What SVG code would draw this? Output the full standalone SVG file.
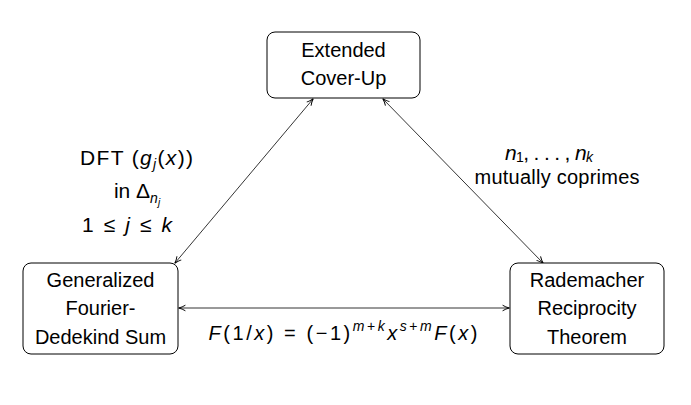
<svg xmlns="http://www.w3.org/2000/svg" width="691" height="405" viewBox="0 0 691 405">
<style>
.box{fill:#fff;stroke:#000;stroke-width:1}
.t{font-family:"Liberation Sans",Arial,sans-serif;font-size:20px;fill:#000;text-anchor:middle}
.m{font-size:21px}
.i{font-style:italic}
.s{font-size:14px}
.c{stroke:#000;stroke-width:0.8;fill:none;marker-start:url(#a);marker-end:url(#a)}
</style>
<defs>
<marker id="a" viewBox="0 0 10 10" refX="9" refY="5" markerWidth="8" markerHeight="8" markerUnits="userSpaceOnUse" orient="auto-start-reverse">
<path d="M1,1.5 Q5,4 9.5,5 Q5,6 1,8.5" fill="none" stroke="#000" stroke-width="1.2"/>
</marker>
</defs>
<rect width="691" height="405" fill="#fff"/>
<g id="connectors">
<line class="c" x1="175" y1="263" x2="313" y2="99"/>
<line class="c" x1="383" y1="99" x2="543" y2="263"/>
<line class="c" x1="179" y1="308" x2="509" y2="308"/>
</g>
<g id="extended">
<rect class="box" x="267" y="32" width="153" height="66" rx="8"/>
<text class="t" x="343.5" y="57">Extended</text>
<text class="t" x="343.5" y="85">Cover-Up</text>
</g>
<g id="generalized">
<rect class="box" x="23" y="263" width="155" height="91" rx="8"/>
<text class="t" x="100.5" y="287">Generalized</text>
<text class="t" x="100.5" y="315">Fourier-</text>
<text class="t" x="100.5" y="344">Dedekind Sum</text>
</g>
<g id="rademacher">
<rect class="box" x="510" y="263" width="154" height="91" rx="8"/>
<text class="t" x="587" y="287">Rademacher</text>
<text class="t" x="587" y="315">Reciprocity</text>
<text class="t" x="587" y="344">Theorem</text>
</g>
<g id="labels">
<text class="t m" x="136.5" y="165" textLength="113" lengthAdjust="spacing">DFT (<tspan class="i">g</tspan><tspan class="i s" dy="4">j</tspan><tspan dy="-4">(</tspan><tspan class="i">x</tspan>))</text>
<text class="t m" x="137" y="198">in Δ<tspan class="i s" dy="5">n</tspan><tspan class="i" font-size="10" dy="3">j</tspan></text>
<text class="t m" x="127" y="232" textLength="90" lengthAdjust="spacing">1 ≤ <tspan class="i">j</tspan> ≤ <tspan class="i">k</tspan></text>
<text class="t m" x="549" y="160" textLength="88" lengthAdjust="spacing"><tspan class="i">n</tspan><tspan class="s" dy="2">1</tspan><tspan dy="-2">, . . . , </tspan><tspan class="i">n</tspan><tspan class="i s" dy="2">k</tspan></text>
<text class="t" x="557" y="184" textLength="165" lengthAdjust="spacing">mutually coprimes</text>
<text class="t" x="343" y="340" font-size="22" textLength="269" lengthAdjust="spacing"><tspan class="i">F</tspan>(1/<tspan class="i">x</tspan>) = (−1)<tspan class="i s" dy="-9">m</tspan><tspan class="s">+</tspan><tspan class="i s">k</tspan><tspan class="i" dy="9">x</tspan><tspan class="i s" dy="-9">s</tspan><tspan class="s">+</tspan><tspan class="i s">m</tspan><tspan class="i" dy="9">F</tspan>(<tspan class="i">x</tspan>)</text>
</g>
</svg>
